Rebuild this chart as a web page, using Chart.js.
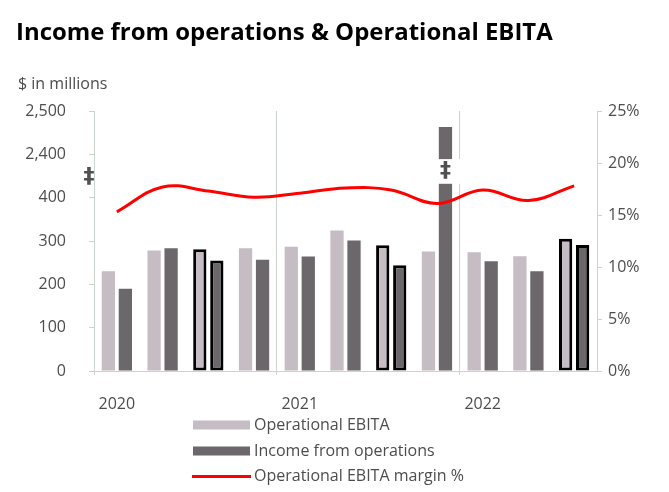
<!DOCTYPE html>
<html><head><meta charset="utf-8">
<script src="https://cdn.jsdelivr.net/npm/chart.js@4/dist/chart.umd.min.js"></script>
<style>html,body{margin:0;padding:0;background:#fff;} #wrap{width:669px;height:492px;position:relative;}</style>
</head><body><div id="wrap"><canvas id="c" width="669" height="492"></canvas></div>
<script>
const quarters = ['Q1 2020','Q2 2020','Q3 2020','Q4 2020','Q1 2021','Q2 2021','Q3 2021','Q4 2021','Q1 2022','Q2 2022','Q3 2022'];
const operationalEbita = [230, 278, 281, 283, 287, 324, 290, 276, 274, 265, 305];
const incomeFromOperations = [190, 283, 255, 257, 264, 301, 244, 2463, 253, 230, 291];
const ebitaMarginPct = [15.3, 17.7, 17.3, 16.7, 17.1, 17.6, 17.4, 16.1, 17.4, 16.4, 17.8];
const leftTickLabels = ['0','100','200','300','400','2,400','2,500'];
const rightTickLabels = ['0%','5%','10%','15%','20%','25%'];
const outlinedQuarters = ['Q3 2020','Q3 2021','Q3 2022'];
const seriesNames = ['Operational EBITA','Income from operations','Operational EBITA margin %'];
const chartTitle = 'Income from operations & Operational EBITA';
const unitLabel = '$ in millions';

// broken left axis: values >= 2,400 are shown on the slot right above 400
const BREAK_LOW = 400, BREAK_HIGH = 2400, BREAK_SLOT = 500;
const toAxis = v => v >= BREAK_HIGH ? v - BREAK_HIGH + BREAK_SLOT : v;

const GRID = '#cdd4cd';
const TEXT = '#4d4d4d';
const EBITA_COLOR = '#c5bcc4';
const INCOME_COLOR = '#6b676b';
const LINE_COLOR = '#ff0000';
const isOutlined = i => outlinedQuarters.includes(quarters[i]);

Chart.defaults.font.family = '"Open Sans", sans-serif';
Chart.defaults.font.size = 16;
Chart.defaults.color = TEXT;

const overlay = {
  id: 'overlay',
  afterDatasetsDraw(chart) {
    const ctx = chart.ctx, y = chart.scales.y, x = chart.scales.x, ca = chart.chartArea;
    const meta = chart.getDatasetMeta(1);
    const slot = (ca.right - ca.left) / quarters.length;
    ctx.save();
    ctx.font = 'bold 22px "DejaVu Sans", sans-serif';
    ctx.textAlign = 'center';
    ctx.textBaseline = 'middle';
    incomeFromOperations.forEach((v, i) => {
      if (v < BREAK_HIGH) return;
      const bar = meta.data[i];
      const yTop = y.getPixelForValue(489), yBot = y.getPixelForValue(432);
      const x0 = bar.x - bar.width / 2 - 1;
      const x1 = x.getPixelForValue(i) + slot / 2 + 3;
      ctx.fillStyle = '#fff';
      ctx.fillRect(x0, yTop, x1 - x0, yBot - yTop);
      ctx.fillStyle = '#505050';
      ctx.fillText('\u2021', bar.x, (yTop + yBot) / 2);
    });
    // axis break mark on left axis
    ctx.fillStyle = '#505050';
    ctx.fillText('\u2021', ca.left - 5, y.getPixelForValue(446));
    ctx.restore();
  },
  afterDraw(chart) {
    const ctx = chart.ctx;
    ctx.save();
    // title
    let fs = 22;
    ctx.font = `bold ${fs}px "Open Sans", sans-serif`;
    const w = ctx.measureText(chartTitle).width;
    fs = fs * 537 / w;
    ctx.font = `bold ${fs}px "Open Sans", sans-serif`;
    ctx.fillStyle = '#000';
    ctx.textAlign = 'left';
    ctx.textBaseline = 'alphabetic';
    ctx.fillText(chartTitle, 16, 39.5);
    // unit
    ctx.font = '16px "Open Sans", sans-serif';
    ctx.fillStyle = TEXT;
    ctx.fillText(unitLabel, 18, 88.5);
    // legend
    const rows = [425, 451, 476];
    ctx.textBaseline = 'middle';
    seriesNames.forEach((name, i) => {
      const yy = rows[i];
      if (i < 2) {
        ctx.fillStyle = i === 0 ? EBITA_COLOR : INCOME_COLOR;
        ctx.fillRect(193, yy - 4.5, 57, 9);
      } else {
        ctx.strokeStyle = LINE_COLOR;
        ctx.lineWidth = 3;
        ctx.beginPath(); ctx.moveTo(192, yy + 0.5); ctx.lineTo(251, yy + 0.5); ctx.stroke();
      }
      ctx.fillStyle = TEXT;
      ctx.fillText(name, 254, yy);
    });
    ctx.restore();
  }
};

new Chart(document.getElementById('c'), {
  type: 'bar',
  data: {
    labels: quarters,
    datasets: [
      {
        label: seriesNames[0], data: operationalEbita.map(toAxis), yAxisID: 'y', order: 2,
        backgroundColor: EBITA_COLOR,
        borderColor: quarters.map((q, i) => isOutlined(i) ? '#000' : 'rgba(0,0,0,0)'),
        borderWidth: quarters.map((q, i) => isOutlined(i) ? 3 : 0),
        borderSkipped: false,
        categoryPercentage: 0.744, barPercentage: 0.78
      },
      {
        label: seriesNames[1], data: incomeFromOperations.map(toAxis), yAxisID: 'y', order: 2,
        backgroundColor: INCOME_COLOR,
        borderColor: quarters.map((q, i) => isOutlined(i) ? '#000' : 'rgba(0,0,0,0)'),
        borderWidth: quarters.map((q, i) => isOutlined(i) ? 3 : 0),
        borderSkipped: false,
        categoryPercentage: 0.744, barPercentage: 0.78
      },
      {
        type: 'line', label: seriesNames[2], data: ebitaMarginPct, yAxisID: 'y1', order: 0,
        borderColor: LINE_COLOR, borderWidth: 3, pointRadius: 0, tension: 0.4, fill: false
      }
    ]
  },
  options: {
    responsive: false, animation: false, devicePixelRatio: 1,
    layout: { padding: { top: 111, left: 0, right: 0, bottom: 0 } },
    plugins: { legend: { display: false }, tooltip: { enabled: false }, title: { display: false } },
    scales: {
      x: {
        offset: true,
        grid: {
          offset: true, drawOnChartArea: true, drawTicks: true, tickLength: 4, lineWidth: 1,
          color: c => (c.index % 4 === 0 || c.index === quarters.length) ? GRID : 'rgba(0,0,0,0)'
        },
        border: { display: true, color: GRID },
        ticks: {
          autoSkip: false, maxRotation: 0, padding: 20, color: TEXT, font: { size: 16 },
          callback: (v, i) => quarters[i].startsWith('Q1') ? quarters[i].slice(3) : ''
        },
        afterFit: s => { s.height = 121; }
      },
      y: {
        position: 'left', min: 0, max: 600,
        grid: { drawOnChartArea: false, drawTicks: true, tickLength: 5, color: GRID },
        border: { display: true, color: GRID },
        ticks: { stepSize: 100, padding: 23, color: TEXT, font: { size: 16 }, callback: (v, i) => leftTickLabels[i] },
        afterFit: s => { s.width = 94; }
      },
      y1: {
        position: 'right', min: 0, max: 25,
        grid: { drawOnChartArea: false, drawTicks: true, tickLength: 5, color: GRID },
        border: { display: true, color: GRID },
        ticks: { stepSize: 5, padding: 6, color: TEXT, font: { size: 16 }, callback: (v, i) => rightTickLabels[i] },
        afterFit: s => { s.width = 72; }
      }
    }
  },
  plugins: [overlay]
});
</script></body></html>
